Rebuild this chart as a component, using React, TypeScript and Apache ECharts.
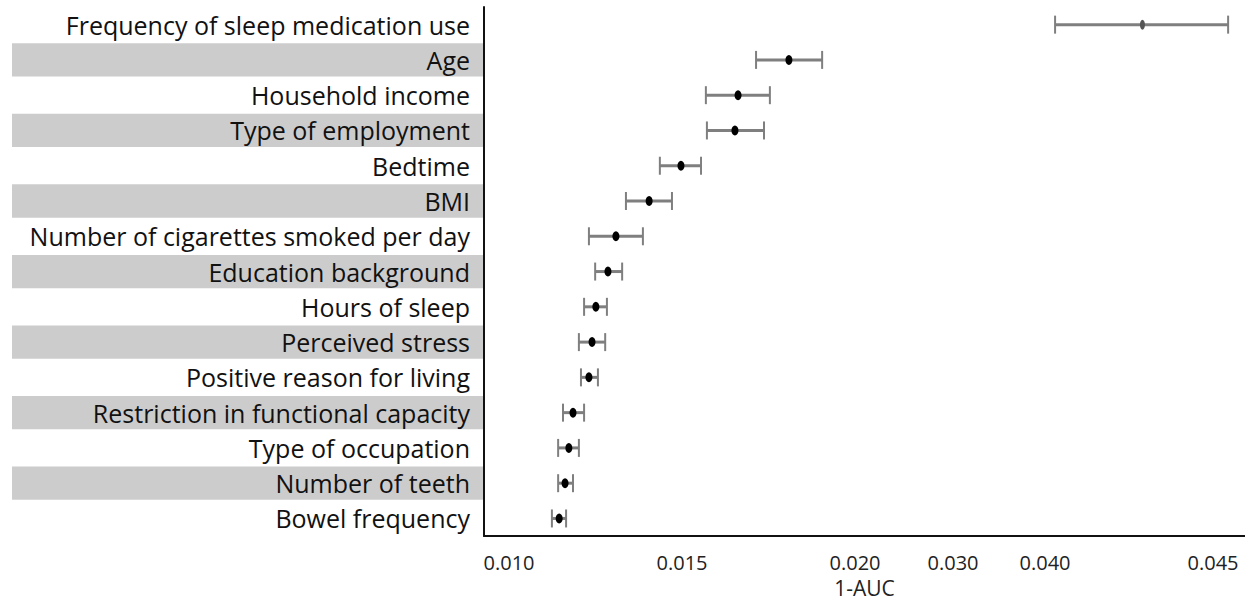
import React, { useEffect, useRef } from "react";
import * as echarts from "echarts";

const categories = [
  "Frequency of sleep medication use",
  "Age",
  "Household income",
  "Type of employment",
  "Bedtime",
  "BMI",
  "Number of cigarettes smoked per day",
  "Education background",
  "Hours of sleep",
  "Perceived stress",
  "Positive reason for living",
  "Restriction in functional capacity",
  "Type of occupation",
  "Number of teeth",
  "Bowel frequency",
];

const meanValues = [0.0429, 0.01809, 0.01662, 0.01653, 0.01497, 0.01405, 0.01309, 0.01286, 0.01251, 0.0124, 0.01231, 0.01185, 0.01173, 0.01162, 0.01145];
const lowValues = [0.0403, 0.01714, 0.01569, 0.01572, 0.01436, 0.01338, 0.01231, 0.01249, 0.01217, 0.01202, 0.01208, 0.01156, 0.01142, 0.01142, 0.01124];
const highValues = [0.04545, 0.01905, 0.01754, 0.01737, 0.01555, 0.01471, 0.01387, 0.01327, 0.01283, 0.01278, 0.01257, 0.01217, 0.01202, 0.01185, 0.01165];

const tickValues = [0.01, 0.015, 0.02, 0.03, 0.04, 0.045];
const tickLabels = ["0.010", "0.015", "0.020", "0.030", "0.040", "0.045"];
// broken-axis scale: display position of each tick value (axis units)
const tickDisplay = [0, 173, 346, 444, 536, 704];
const shadedRows = [1, 3, 5, 7, 9, 11, 13];

function toDisplay(v: number): number {
  const n = tickValues.length;
  let i = 0;
  if (v <= tickValues[0]) i = 0;
  else if (v >= tickValues[n - 1]) i = n - 2;
  else {
    while (i < n - 2 && v > tickValues[i + 1]) i++;
  }
  const t = (v - tickValues[i]) / (tickValues[i + 1] - tickValues[i]);
  return tickDisplay[i] + t * (tickDisplay[i + 1] - tickDisplay[i]);
}

export default function App() {
  const ref = useRef<HTMLDivElement>(null);
  useEffect(() => {
    if (!ref.current) return;
    const chart = echarts.init(ref.current, null, { renderer: "svg" });
    const errData = categories.map((_, i) => [
      toDisplay(lowValues[i]),
      toDisplay(meanValues[i]),
      toDisplay(highValues[i]),
      i,
    ]);
    const bandData = shadedRows.map((r) => [0, r]);
    const font = "'Open Sans', sans-serif";
    chart.setOption({
      animation: false,
      backgroundColor: "#ffffff",
      grid: { left: 484, right: 0, top: 7, bottom: 66, containLabel: false },
      xAxis: {
        type: "value",
        min: -25,
        max: 736,
        name: "1-AUC",
        nameLocation: "middle",
        nameGap: 40,
        nameTextStyle: { fontFamily: font, fontSize: 21, color: "#222" },
        axisLine: { show: true, onZero: false, lineStyle: { color: "#111", width: 2 } },
        axisTick: { show: false },
        splitLine: { show: false },
        axisLabel: {
          customValues: tickDisplay,
          fontFamily: font,
          fontSize: 20,
          color: "#222",
          margin: 16,
          hideOverlap: false,
          formatter: (val: number) => {
            const idx = tickDisplay.findIndex((d) => Math.abs(d - val) < 1e-6);
            return idx >= 0 ? tickLabels[idx] : "";
          },
        },
      },
      yAxis: {
        type: "category",
        data: categories,
        inverse: true,
        z: 10,
        axisLine: { show: true, onZero: false, lineStyle: { color: "#111", width: 2 } },
        axisTick: { show: false },
        splitLine: { show: false },
        axisLabel: {
          fontFamily: font,
          fontSize: 25,
          color: "#111",
          margin: 14,
          interval: 0,
        },
      },
      series: [
        {
          type: "custom",
          name: "bands",
          clip: false,
          z: 1,
          data: bandData,
          renderItem: (params: any, api: any) => {
            const c = api.coord([0, api.value(1)]);
            const h = api.size([0, 1])[1];
            const left = 12;
            const right = params.coordSys.x;
            return {
              type: "rect",
              shape: { x: left, y: c[1] - h / 2 + 1, width: right - left, height: h - 2 },
              style: { fill: "#cccccc" },
            };
          },
        },
        {
          type: "custom",
          name: "1-AUC",
          clip: false,
          z: 5,
          data: errData,
          renderItem: (params: any, api: any) => {
            const idx = api.value(3);
            const lo = api.coord([api.value(0), idx]);
            const mid = api.coord([api.value(1), idx]);
            const hi = api.coord([api.value(2), idx]);
            const y = mid[1];
            const capH = 9;
            const barColor = "#7f7f7f";
            return {
              type: "group",
              children: [
                { type: "line", shape: { x1: lo[0], y1: y, x2: hi[0], y2: y }, style: { stroke: barColor, lineWidth: 3 } },
                { type: "line", shape: { x1: lo[0], y1: y - capH, x2: lo[0], y2: y + capH }, style: { stroke: barColor, lineWidth: 2 } },
                { type: "line", shape: { x1: hi[0], y1: y - capH, x2: hi[0], y2: y + capH }, style: { stroke: barColor, lineWidth: 2 } },
                {
                  type: "ellipse",
                  shape: { cx: mid[0], cy: y, rx: idx === 0 ? 2.5 : 3.5, ry: 5 },
                  style: { fill: idx === 0 ? "#555555" : "#000000" },
                },
              ],
            };
          },
        },
      ],
    });
    return () => chart.dispose();
  }, []);
  return (
    <div
      ref={ref}
      style={{ position: "absolute", left: 0, top: 0, width: 1245, height: 603 }}
    />
  );
}
